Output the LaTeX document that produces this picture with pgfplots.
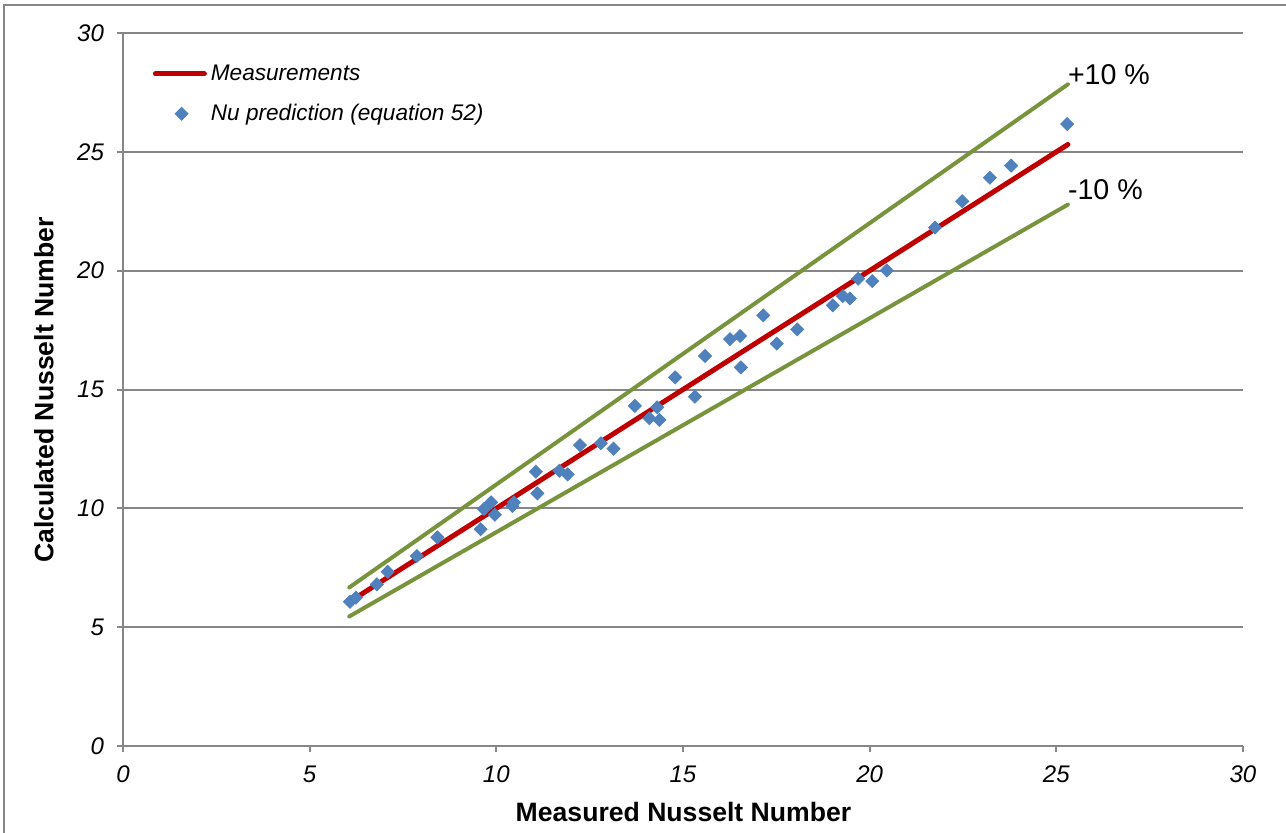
\documentclass[border=0pt]{standalone}
\usepackage{pgfplots}
\pgfplotsset{compat=1.18}
\usepackage{fontspec}
\setmainfont{Liberation Sans}
\definecolor{gridgray}{RGB}{134,134,134}
\definecolor{ptblue}{RGB}{79,129,189}
\definecolor{mred}{RGB}{192,0,0}
\definecolor{lgreen}{RGB}{119,147,60}
\pgfplotsset{
  redleg/.style={legend image code/.code={\draw[##1] (0pt,0pt) -- (24.5pt,0pt);}},
  markleg/.style={legend image code/.code={\draw[mark repeat=2, mark phase=2, ##1] plot coordinates {(0pt,0pt) (13.1pt,0pt) (24.5pt,0pt)};}},
}
\begin{document}
\begin{tikzpicture}
\useasboundingbox (0,0) rectangle (643pt,416pt);
\draw[gridgray, line width=1pt] (2pt,-10pt) -- (2pt,413.5pt) -- (660pt,413.5pt);
\begin{axis}[
  at={(61.5pt,43pt)}, anchor=south west,
  scale only axis, width=560pt, height=356.5pt,
  xmin=0, xmax=30, ymin=0, ymax=30,
  xtick={0,5,...,30}, ytick={0,5,...,30},
  axis lines=left, axis line style={-, gridgray, line width=1pt},
  ymajorgrids, grid style={gridgray, line width=1pt},
  tick align=outside, major tick length=3pt,
  tick style={gridgray, line width=1pt},
  /pgf/number format/assume math mode=true,
  ticklabel style={font=\fontsize{12}{14}\selectfont\itshape},
  yticklabel style={xshift=-3pt},
  xticklabel style={yshift=-3.5pt},
  clip=false,
  legend cell align=left,
  legend style={draw=none, fill=none, at={(axis cs:0.79,28.86)}, anchor=north west,
    inner xsep=0pt, inner ysep=0pt, row sep=6.5pt,
    font=\fontsize{11.3}{13}\selectfont\itshape},
]
\addplot[mred, line width=2.5pt, line cap=round, redleg]
  coordinates {(6.08,6.08) (25.31,25.31)};
\addlegendentry{Measurements}
\addplot[only marks, mark=square*, mark size=2.3pt, mark options={rotate=45, fill=ptblue, draw=ptblue}, markleg]
  table {
x y
6.08 6.07
6.24 6.24
6.80 6.80
7.09 7.33
7.87 7.99
8.42 8.78
9.58 9.12
9.67 9.97
9.86 10.25
9.96 9.73
10.43 10.10
10.47 10.25
11.06 11.54
11.10 10.63
11.69 11.58
11.91 11.43
12.24 12.66
12.80 12.74
13.14 12.51
13.71 14.31
14.10 13.79
14.31 14.25
14.37 13.72
14.79 15.51
15.32 14.70
15.59 16.41
16.26 17.12
16.53 17.25
16.55 15.93
17.15 18.12
17.51 16.93
18.06 17.53
19.01 18.54
19.28 18.93
19.47 18.83
19.69 19.66
20.07 19.56
20.46 20.01
21.75 21.81
22.48 22.92
23.22 23.91
23.79 24.42
25.29 26.17
};
\addlegendentry{Nu prediction (equation 52)}
\addplot[lgreen, line width=2pt, line cap=round, forget plot]
  coordinates {(6.06,6.67) (25.31,27.84)};
\addplot[lgreen, line width=2pt, line cap=round, forget plot]
  coordinates {(6.06,5.45) (25.31,22.78)};
\end{axis}
\node[anchor=base west, inner sep=0pt, font=\fontsize{14.3}{16}\selectfont] at (533.8pt,373.5pt) {+10 \%};
\node[anchor=base west, inner sep=0pt, font=\fontsize{14.3}{16}\selectfont] at (533.8pt,316.3pt) {-10 \%};
\node[anchor=base, inner sep=0pt, font=\fontsize{13.3}{15}\selectfont\bfseries] at (341.75pt,5.5pt) {Measured Nusselt Number};
\node[anchor=base, rotate=90, inner sep=0pt, font=\fontsize{13.3}{15}\selectfont\bfseries] at (26.65pt,221pt) {Calculated Nusselt Number};
\end{tikzpicture}
\end{document}
